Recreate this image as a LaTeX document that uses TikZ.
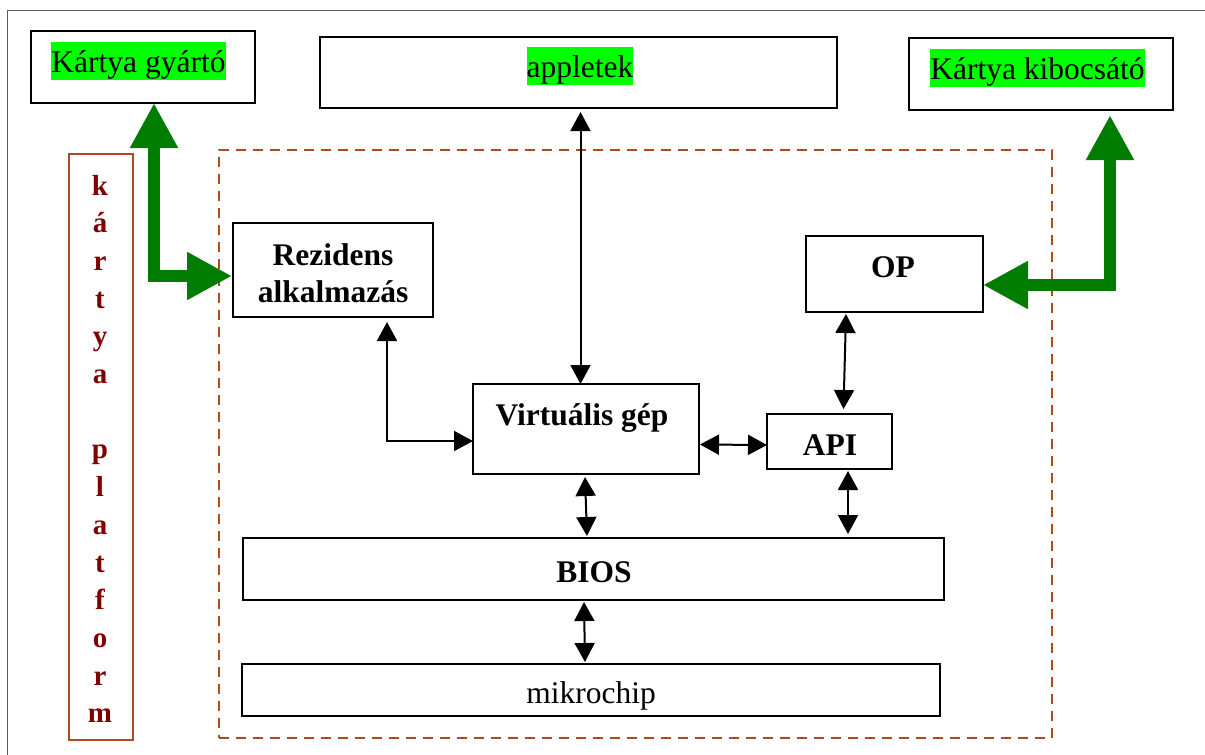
\documentclass[tikz,border=0pt]{standalone}
\usepackage{fontspec}
\setmainfont{Liberation Serif}
\usetikzlibrary{arrows.meta,calc}
\definecolor{hl}{RGB}{0,255,0}
\definecolor{gr}{RGB}{0,125,0}
\definecolor{sienna}{RGB}{176,74,28}
\definecolor{maroonred}{RGB}{128,0,0}
\definecolor{framegray}{RGB}{90,90,90}
\begin{document}
\begin{tikzpicture}[x=1pt,y=-1pt,
  box/.style={draw=black,line width=2pt,inner sep=0pt,outer sep=0pt,fill=white},
  hltext/.style={fill=hl,inner sep=0pt,text height=30pt,text depth=8pt,anchor=base,font=\fontsize{31.5}{37}\selectfont},
  btext/.style={inner sep=0pt,anchor=base,font=\fontsize{31.5}{37}\selectfont\bfseries},
  ntext/.style={inner sep=0pt,anchor=base,font=\fontsize{31.5}{37}\selectfont},
  plat/.style={inner sep=0pt,anchor=base,text=maroonred,font=\fontsize{29}{34}\selectfont\bfseries},
  arr/.style={line width=2pt,{Triangle[length=19pt,width=20pt]}-{Triangle[length=19pt,width=20pt]}},
  garr/.style={draw=gr,line width=12pt,line join=miter,{Triangle[length=45pt,width=45pt]}-{Triangle[length=45pt,width=45pt]}},
  dashbox/.style={draw=sienna,line width=1.5pt,dash pattern=on 10pt off 7pt},
]
\useasboundingbox (0,0) rectangle (1205,755);
% outer frame
\draw[framegray,line width=1pt] (7,755) -- (7,10) -- (1205,10);

% dashed platform region
\node[dashbox,inner sep=0pt,minimum width=833pt,minimum height=588pt] (region) at (635.5,444) {};

% top boxes
\node[box,minimum width=224pt,minimum height=72pt] (gyarto) at (143,67) {};
\node[hltext] (gyartoT) at (138.5,72) {Kártya gyártó};
\node[box,minimum width=517pt,minimum height=71pt] (applet) at (578.5,72.5) {};
\node[hltext] (appletT) at (580,77) {appletek};
\node[box,minimum width=264pt,minimum height=72pt] (kibocs) at (1041,74) {};
\node[hltext] (kibocsT) at (1037.5,79) {Kártya kibocsátó};

% platform column
\node[draw=sienna,line width=2pt,inner sep=0pt,minimum width=64pt,minimum height=586pt] (platform) at (101,447) {};
\foreach \ch [count=\i] in {k,á,r,t,y,a,{},p,l,a,t,f,o,r,m}
  \node[plat] (L\i) at (100,{195+37.7*(\i-1)}) {\ch};

% inner boxes
\node[box,minimum width=200pt,minimum height=94pt] (rezid) at (333,270) {};
\node[btext] (rezidT1) at (333,265) {Rezidens};
\node[btext] (rezidT2) at (333,302) {alkalmazás};
\node[box,minimum width=177pt,minimum height=76pt] (op) at (894.5,274) {};
\node[btext] (opT) at (893,277) {OP};
\node[box,minimum width=226pt,minimum height=90pt] (vg) at (586,429) {};
\node[btext] (vgT) at (582,425) {Virtuális gép};
\node[box,minimum width=125pt,minimum height=55pt] (api) at (829.5,441.5) {};
\node[btext] (apiT) at (830,455) {API};
\node[box,minimum width=701pt,minimum height=62pt] (bios) at (593.5,569) {};
\node[btext] (biosT) at (594,582) {BIOS};
\node[box,minimum width=698pt,minimum height=52pt] (chip) at (591,690) {};
\node[ntext] (chipT) at (591,703) {mikrochip};

% black connectors
\draw[arr] ($(applet.south)+(2,4)$) -- ($(vg.north)+(-5.5,0)$);
\draw[arr] ($(rezid.south)+(54,5)$) |- ($(vg.west)+(0,12)$);
\draw[arr] ($(vg.east)+(1,15.5)$) -- ($(api.west)+(0,3.5)$);
\draw[arr] ($(op.south)+(-48.5,2)$) -- ($(api.north)+(14,-5)$);
\draw[arr] ($(api.south)+(18.5,2)$) -- ($(bios.north)+(254.5,-4)$);
\draw[arr] ($(vg.south)+(-1,3)$) -- ($(bios.north)+(-6.5,-2)$);
\draw[arr] ($(bios.south)+(-9.5,2)$) -- ($(chip.north)+(-6,-2)$);

% green connectors
\draw[garr] ($(gyarto.south)+(11,0)$) |- ($(rezid.west)+(-1,6)$);
\draw[garr] ($(kibocs.south)+(69,5)$) |- ($(op.east)+(0,11)$);
\end{tikzpicture}
\end{document}
